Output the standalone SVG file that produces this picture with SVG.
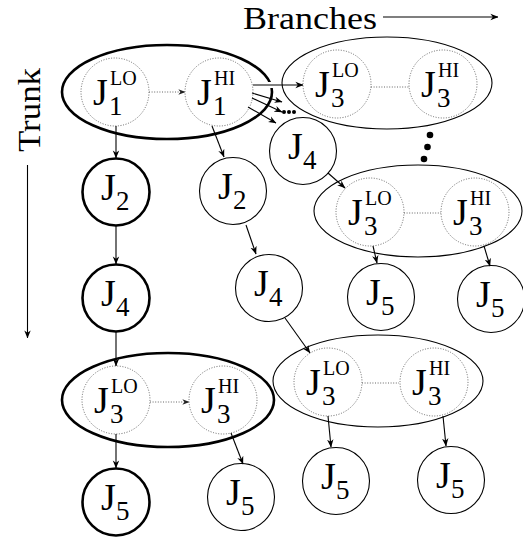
<svg xmlns="http://www.w3.org/2000/svg" width="523" height="543" viewBox="0 0 523 543">
<style>
  .J { font-size: 38px; }
  .s { font-size: 27px; }
  .p { font-size: 20px; }
  .lab { font-size: 32px; }
  .thick { fill: none; stroke: #000; stroke-width: 2.6; }
  .thin { fill: none; stroke: #000; stroke-width: 1.1; }
  .dot { fill: none; stroke: #666; stroke-width: 1; stroke-dasharray: 1 1.6; }
  .arr { fill: none; stroke: #000; stroke-width: 1.1; }
  .darr { fill: none; stroke: #666; stroke-width: 1; stroke-dasharray: 1 1.6; }
  .halo { fill: none; stroke: #fff; stroke-width: 6; }
</style>
<defs>
  <marker id="ah" viewBox="0 0 10 10" refX="9.5" refY="5" markerWidth="8" markerHeight="8" markerUnits="userSpaceOnUse" orient="auto">
    <path d="M0,1 L10,5 L0,9 L3,5 z" fill="#000"/>
  </marker>
  <marker id="ahs" viewBox="0 0 10 10" refX="9.5" refY="5" markerWidth="7" markerHeight="7" markerUnits="userSpaceOnUse" orient="auto">
    <path d="M0,1 L10,5 L0,9 L3,5 z" fill="#222"/>
  </marker>
</defs>
<g font-family="Liberation Serif" fill="#000">
<g id="axes">
  <text class="lab" x="243" y="29" textLength="134" lengthAdjust="spacingAndGlyphs">Branches</text>
  <line class="arr" x1="383" y1="17" x2="498" y2="17" marker-end="url(#ah)"/>
  <text class="lab" transform="translate(40,152) rotate(-90)" textLength="84" lengthAdjust="spacingAndGlyphs">Trunk</text>
  <line class="arr" x1="27.5" y1="165" x2="27.5" y2="338" marker-end="url(#ah)"/>
</g>

<g id="trunk-J1">
  <ellipse class="thick" cx="167" cy="92" rx="105" ry="47"/>
  <g id="trunk-J1LO" transform="translate(115,92)">
    <circle class="dot" r="34"/>
    <text class="J" x="-22" y="13">J</text><text class="s" x="-6" y="23">1</text><text class="p" x="-5" y="-7">LO</text>
  </g>
  <g id="trunk-J1HI" transform="translate(219,92)">
    <circle class="dot" r="34"/>
    <text class="J" x="-22" y="13">J</text><text class="s" x="-6" y="23">1</text><text class="p" x="-5" y="-7">HI</text>
  </g>
</g>
<g id="trunk-J2" transform="translate(116,192)">
  <circle class="thick" r="33.5"/>
  <text class="J" x="-15" y="8">J</text><text class="s" x="0" y="18">2</text>
</g>
<g id="trunk-J4" transform="translate(116,298)">
  <circle class="thick" r="33.5"/>
  <text class="J" x="-15" y="8">J</text><text class="s" x="0" y="18">4</text>
</g>
<g id="trunk-J3">
  <ellipse class="thick" cx="168" cy="400" rx="106" ry="47"/>
  <g id="trunk-J3LO" transform="translate(116,400)">
    <circle class="dot" r="34"/>
    <text class="J" x="-22" y="13">J</text><text class="s" x="-6" y="23">3</text><text class="p" x="-5" y="-7">LO</text>
  </g>
  <g id="trunk-J3HI" transform="translate(223,400)">
    <circle class="dot" r="34"/>
    <text class="J" x="-22" y="13">J</text><text class="s" x="-6" y="23">3</text><text class="p" x="-5" y="-7">HI</text>
  </g>
</g>
<g id="trunk-J5" transform="translate(116,502)">
  <circle class="thick" r="33.5"/>
  <text class="J" x="-15" y="8">J</text><text class="s" x="0" y="18">5</text>
</g>

<g id="b1-J2" transform="translate(233,191)">
  <circle class="thin" r="33.5"/>
  <text class="J" x="-15" y="8">J</text><text class="s" x="0" y="18">2</text>
</g>
<g id="b1-J4" transform="translate(269,288)">
  <circle class="thin" r="33.5"/>
  <text class="J" x="-15" y="8">J</text><text class="s" x="0" y="18">4</text>
</g>
<g id="b2-J5" transform="translate(241,497)">
  <circle class="thin" r="33.5"/>
  <text class="J" x="-15" y="8">J</text><text class="s" x="0" y="18">5</text>
</g>

<g id="b3-J3">
  <ellipse class="thin" cx="387" cy="83" rx="105" ry="46"/>
  <g id="b3-J3LO" transform="translate(337,84)">
    <circle class="dot" r="34"/>
    <text class="J" x="-22" y="13">J</text><text class="s" x="-6" y="23">3</text><text class="p" x="-5" y="-7">LO</text>
  </g>
  <g id="b3-J3HI" transform="translate(443,84)">
    <circle class="dot" r="34"/>
    <text class="J" x="-22" y="13">J</text><text class="s" x="-6" y="23">3</text><text class="p" x="-5" y="-7">HI</text>
  </g>
</g>
<g id="b4-J4" transform="translate(303,151)">
  <circle class="thin" r="33.5"/>
  <text class="J" x="-15" y="8">J</text><text class="s" x="0" y="18">4</text>
</g>

<g id="b4-J3">
  <ellipse class="thin" cx="418" cy="211" rx="104" ry="46"/>
  <g id="b4-J3LO" transform="translate(370,212)">
    <circle class="dot" r="34"/>
    <text class="J" x="-22" y="13">J</text><text class="s" x="-6" y="23">3</text><text class="p" x="-5" y="-7">LO</text>
  </g>
  <g id="b4-J3HI" transform="translate(475,212)">
    <circle class="dot" r="34"/>
    <text class="J" x="-22" y="13">J</text><text class="s" x="-6" y="23">3</text><text class="p" x="-5" y="-7">HI</text>
  </g>
</g>
<g id="b4-J5a" transform="translate(381,297)">
  <circle class="thin" r="33.5"/>
  <text class="J" x="-15" y="8">J</text><text class="s" x="0" y="18">5</text>
</g>
<g id="b4-J5b" transform="translate(491,299)">
  <circle class="thin" r="33.5"/>
  <text class="J" x="-15" y="8">J</text><text class="s" x="0" y="18">5</text>
</g>

<g id="b1-J3">
  <ellipse class="thin" cx="378" cy="381" rx="105" ry="46"/>
  <g id="b1-J3LO" transform="translate(328,382)">
    <circle class="dot" r="34"/>
    <text class="J" x="-22" y="13">J</text><text class="s" x="-6" y="23">3</text><text class="p" x="-5" y="-7">LO</text>
  </g>
  <g id="b1-J3HI" transform="translate(434,382)">
    <circle class="dot" r="34"/>
    <text class="J" x="-22" y="13">J</text><text class="s" x="-6" y="23">3</text><text class="p" x="-5" y="-7">HI</text>
  </g>
</g>
<g id="b1-J5a" transform="translate(336,481)">
  <circle class="thin" r="33.5"/>
  <text class="J" x="-15" y="8">J</text><text class="s" x="0" y="18">5</text>
</g>
<g id="b1-J5b" transform="translate(451,480)">
  <circle class="thin" r="33.5"/>
  <text class="J" x="-15" y="8">J</text><text class="s" x="0" y="18">5</text>
</g>
</g>

<g id="connectors">
  <line class="darr" x1="149" y1="92" x2="185" y2="92" marker-end="url(#ahs)"/>
  <line class="halo" x1="268" y1="85" x2="278" y2="85"/>
  <line class="arr" x1="253" y1="85" x2="303" y2="85" marker-end="url(#ah)"/>
  <line class="arr" x1="252" y1="93" x2="282" y2="102" marker-end="url(#ah)"/>
  <line class="arr" x1="252" y1="98" x2="282" y2="112" marker-end="url(#ah)"/>
  <line class="arr" x1="248" y1="107" x2="276" y2="123" marker-end="url(#ah)"/>
  <line class="arr" x1="116" y1="126" x2="116" y2="158" marker-end="url(#ah)"/>
  <line class="arr" x1="212" y1="126" x2="224" y2="157" marker-end="url(#ah)"/>
  <line class="arr" x1="116" y1="226" x2="116" y2="264" marker-end="url(#ah)"/>
  <line class="arr" x1="246" y1="225" x2="256" y2="254" marker-end="url(#ah)"/>
  <line class="arr" x1="285" y1="318" x2="310" y2="353" marker-end="url(#ah)"/>
  <line class="arr" x1="328" y1="173" x2="345" y2="188" marker-end="url(#ah)"/>
  <line class="arr" x1="373" y1="246" x2="377" y2="263" marker-end="url(#ah)"/>
  <line class="arr" x1="484" y1="246" x2="490" y2="266" marker-end="url(#ah)"/>
  <line class="arr" x1="116" y1="332" x2="116" y2="366" marker-end="url(#ah)"/>
  <line class="darr" x1="150" y1="402" x2="189" y2="402" marker-end="url(#ahs)"/>
  <line class="arr" x1="116" y1="434" x2="116" y2="468" marker-end="url(#ah)"/>
  <line class="arr" x1="231" y1="433" x2="243" y2="464" marker-end="url(#ah)"/>
  <line class="arr" x1="328" y1="416" x2="331" y2="447" marker-end="url(#ah)"/>
  <line class="arr" x1="443" y1="416" x2="446" y2="446" marker-end="url(#ah)"/>
  <line class="dot" x1="371" y1="87" x2="409" y2="87"/>
  <line class="dot" x1="404" y1="213" x2="441" y2="213"/>
  <line class="dot" x1="362" y1="383" x2="399" y2="383"/>
</g>

<g id="ellipsis">
  <circle cx="284" cy="112" r="2"/>
  <circle cx="289" cy="112" r="2"/>
  <circle cx="294" cy="112" r="2"/>
  <circle cx="430" cy="135" r="3.3"/>
  <circle cx="427.5" cy="147" r="3.3"/>
  <circle cx="424" cy="159" r="3.3"/>
</g>
</svg>
